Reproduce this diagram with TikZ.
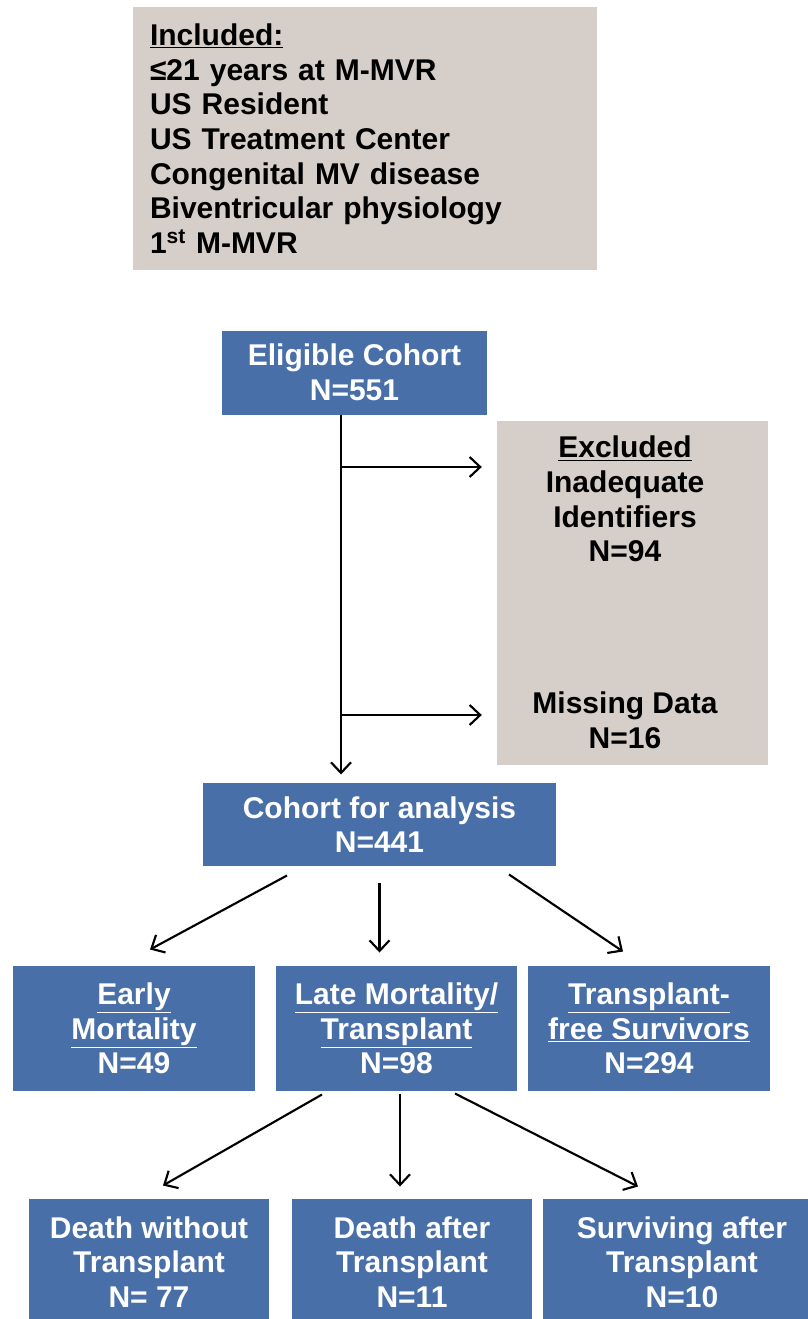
\documentclass[tikz,border=0pt]{standalone}
\usepackage{fontspec}
\setmainfont{Liberation Sans}
\usetikzlibrary{arrows.meta,calc}

\tikzset{every picture/.style={line width=0.75pt}}
\definecolor{boxblue}{RGB}{72,111,168}
\definecolor{boxgrey}{RGB}{214,207,201}
\tikzset{
  boxfont/.style={font=\bfseries\fontsize{22.5}{26}\selectfont},
  bluebox/.style={boxfont, fill=boxblue, text=white, inner sep=0pt, align=center},
  greybox/.style={boxfont, fill=boxgrey, inner sep=0pt},
  arr/.style={line width=1.6pt, -{Straight Barb[length=8pt,width=15pt]}},
}

\begin{document}
\begin{tikzpicture}[x=0.75pt,y=0.75pt,yscale=-1,xscale=1]
		\useasboundingbox (0,0) rectangle (807,1319);
		
		%Shape: Rectangle [inclusion criteria]
		\node [greybox, minimum width=348pt, minimum height=197.25pt, text width=322.5pt, align=left] (incl) at (365,138.5) {\underline{Included:}\\ ≤21 years at M-MVR\\ US Resident\\ US Treatment Center\\ Congenital MV disease\\ Biventricular physiology\\ 1\textsuperscript{st} M-MVR};
		
		%Shape: Rectangle [eligible]
		\node [bluebox, minimum width=198.75pt, minimum height=63pt] (elig) at (354.5,372.5) {Eligible Cohort\\ N=551};
		%Shape: Rectangle [excluded]
		\node [greybox, minimum width=203.25pt, minimum height=258pt] (excl) at (632.5,593) {};
		% Text Node
		\node [boxfont, align=center, inner sep=0pt] (inad) at (625,499) {\underline{Excluded}\\ Inadequate\\ Identifiers\\ N=94};
		% Text Node
		\node [boxfont, align=center, inner sep=0pt] (miss) at (625,720) {Missing Data\\ N=16};
		%Shape: Rectangle [analysis]
		\node [bluebox, minimum width=264.75pt, minimum height=62.25pt] (cohort) at (379.5,824.5) {Cohort for analysis\\ N=441};
		
		%Shape: Rectangle [second row]
		\node [bluebox, minimum width=181.5pt, minimum height=93.75pt] (early) at (134,1028.5) {\underline{Early}\\ \underline{Mortality}\\ N=49};
		\node [bluebox, minimum width=180.75pt, minimum height=93.75pt] (late) at (396.5,1028.5) {\underline{Late Mortality/}\\ \underline{Transplant}\\ N=98};
		\node [bluebox, minimum width=181.5pt, minimum height=93.75pt] (free) at (649,1028.5) {\underline{Transplant-}\\ \underline{free Survivors}\\ N=294};
		
		%Shape: Rectangle [third row]
		\node [bluebox, minimum width=180pt, minimum height=94.5pt] (dwo) at (149,1262) {Death without\\ Transplant\\ N= 77};
		\node [bluebox, minimum width=180pt, minimum height=94.5pt] (daft) at (412,1262) {Death after\\ Transplant\\ N=11};
		\node [bluebox, minimum width=208.5pt, minimum height=94.5pt] (surv) at (682,1262) {Surviving after\\ Transplant\\ N=10};
		
		%Straight Lines [trunk]
		\coordinate (trunk) at (341,414.5);
		\coordinate (b1) at (341,467);
		\coordinate (b2) at (341,715);
		\draw [arr, shorten >=6pt] (trunk) -- (trunk |- cohort.north);
		\draw [arr, shorten >=11pt] (b1) -- (b1 -| excl.west);
		\draw [arr, shorten >=11pt] (b2) -- (b2 -| excl.west);
		
		%Straight Lines [from cohort]
		\draw [arr] ($(cohort.south)+(-92.5,9)$) -- ($(early.north)+(16,-16)$);
		\draw [arr] ($(cohort.south)+(0,16)$) -- ($(cohort.south |- late.north)+(0,-13)$);
		\draw [arr] ($(cohort.south)+(129.5,8)$) -- ($(free.north)+(-26,-14)$);
		
		%Straight Lines [from late]
		\draw [arr] ($(late.south)+(-74.5,3)$) -- ($(dwo.north)+(14,-13)$);
		\draw [arr] ($(late.south)+(3.5,2)$) -- ($(late.south |- daft.north)+(3.5,-12)$);
		\draw [arr] ($(late.south)+(58.5,2)$) -- ($(surv.north)+(-44,-12)$);
	\end{tikzpicture}
\end{document}
